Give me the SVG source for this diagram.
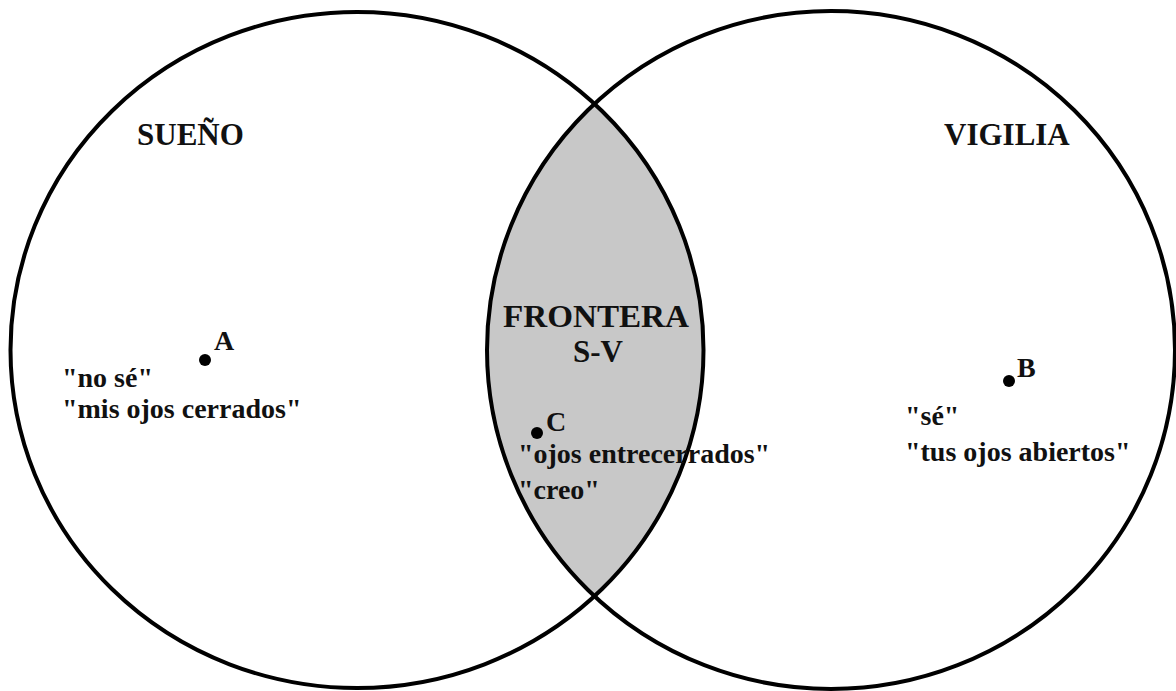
<svg xmlns="http://www.w3.org/2000/svg" width="1176" height="691" viewBox="0 0 1176 691">
<style>
.ring{fill:none;stroke:#000;stroke-width:4}
.h{font-family:"Liberation Serif","Times New Roman",serif;font-weight:bold;font-size:31px;fill:#111}
.t{font-family:"Liberation Serif","Times New Roman",serif;font-weight:bold;font-size:28px;fill:#111}
.dot{fill:#000}
</style>
<defs>
<clipPath id="clipL"><ellipse cx="357" cy="350" rx="346.5" ry="338"/></clipPath>
</defs>
<rect width="1176" height="691" fill="#fff"/>
<g id="lens"><ellipse cx="831" cy="350" rx="344" ry="339" fill="#c8c8c8" clip-path="url(#clipL)"/></g>
<g id="connectors"></g>
<g id="sueno"><ellipse class="ring" cx="357" cy="350" rx="346.5" ry="338"/><text class="h" x="137" y="145">SUEÑO</text></g>
<g id="vigilia"><ellipse class="ring" cx="831" cy="350" rx="344" ry="339"/><text class="h" x="944" y="145">VIGILIA</text></g>
<g id="frontera"><text class="h" x="503" y="327" textLength="186" lengthAdjust="spacingAndGlyphs">FRONTERA</text><text class="h" x="598" y="362" text-anchor="middle">S-V</text></g>
<g id="pointA"><circle class="dot" cx="205" cy="360" r="6"/><text class="t" x="214" y="350">A</text><text class="t" x="62" y="387">"no sé"</text><text class="t" x="62" y="418">"mis ojos cerrados"</text></g>
<g id="pointC"><circle class="dot" cx="537" cy="433" r="6"/><text class="t" x="546" y="431">C</text><text class="t" x="518" y="463">"ojos entrecerrados"</text><text class="t" x="518" y="499">"creo"</text></g>
<g id="pointB"><circle class="dot" cx="1009" cy="381" r="6"/><text class="t" x="1017" y="377">B</text><text class="t" x="905" y="425">"sé"</text><text class="t" x="905" y="461">"tus ojos abiertos"</text></g>
</svg>
